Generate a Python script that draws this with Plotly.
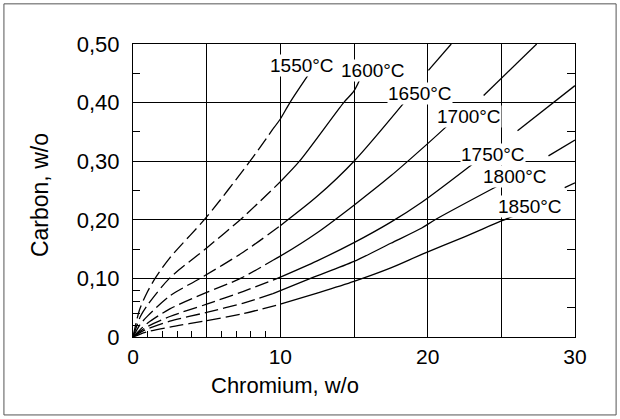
import plotly.graph_objects as go

# ---- data (Chromium w/o vs Carbon w/o) ----
temps = ["1550", "1600", "1650", "1700", "1750", "1800", "1850"]

cr_1550 = [0, 0.45, 1.0, 1.5, 2.5, 5.0, 7.94, 9.5, 10.0, 10.65, 12.0]
c_1550 = [0, 0.047, 0.078, 0.100, 0.135, 0.205, 0.300, 0.355, 0.372, 0.400, 0.451]

cr_1600 = [0, 0.5, 1.0, 2.47, 5.0, 7.5, 10.0, 11.3, 14.3, 15.0, 15.6]
c_1600 = [0, 0.035, 0.055, 0.100, 0.152, 0.205, 0.265, 0.300, 0.400, 0.420, 0.451]

cr_1650 = [0, 0.5, 1.0, 2.5, 4.55, 7.5, 10.0, 12.5, 15.0, 18.4]
c_1650 = [0, 0.022, 0.036, 0.070, 0.100, 0.145, 0.190, 0.240, 0.300, 0.400]

cr_1700 = [0, 0.5, 1.0, 2.5, 5.0, 7.3, 9.5, 10.0, 12.5, 15.0, 17.5, 20.0, 21.4]
c_1700 = [0, 0.013, 0.024, 0.048, 0.076, 0.100, 0.131, 0.138, 0.178, 0.225, 0.275, 0.330, 0.362]

cr_1750 = [0, 0.5, 1.0, 2.5, 5.0, 7.5, 9.8, 12.5, 15.0, 17.5, 19.6, 23.3]
c_1750 = [0, 0.010, 0.018, 0.035, 0.056, 0.078, 0.100, 0.130, 0.161, 0.196, 0.230, 0.300]

cr_1800 = [0, 0.5, 1.0, 2.5, 5.0, 7.5, 9.5, 12.05, 15.0, 17.5, 19.6, 20.5, 25.0]
c_1800 = [0, 0.008, 0.014, 0.027, 0.042, 0.058, 0.074, 0.100, 0.129, 0.160, 0.186, 0.200, 0.261]

cr_1850 = [0, 0.5, 1.0, 2.5, 5.0, 7.5, 10.0, 12.5, 15.0, 17.5, 19.6, 22.5, 25.0, 26.3]
c_1850 = [0, 0.005, 0.009, 0.017, 0.028, 0.040, 0.056, 0.075, 0.095, 0.118, 0.141, 0.171, 0.198, 0.211]

# x where each curve changes from dashed to solid
split_x = [9.5, 10.0, 10.0, 9.5, 9.8, 9.5, 10.0]

# label positions (data coords)
label_x = [11.5, 16.3, 19.5, 22.8, 24.45, 25.95, 26.95]
label_y = [0.463, 0.454, 0.415, 0.376, 0.311, 0.274, 0.222]

# unlabeled short line segments at upper right
stub_x = [[20.05, 21.6], [23.8, 27.4], [26.1, 30.0], [28.2, 30.0], [29.3, 30.0]]
stub_y = [[0.455, 0.500], [0.412, 0.500], [0.352, 0.429], [0.309, 0.336], [0.255, 0.263]]

x_ticks = [0, 5, 10, 15, 20, 25, 30]
x_ticktext = ["0", "", "10", "", "20", "", "30"]
y_ticks = [0, 0.1, 0.2, 0.3, 0.4, 0.5]
y_ticktext = ["0", "0,10", "0,20", "0,30", "0,40", "0,50"]

curves_x = [cr_1550, cr_1600, cr_1650, cr_1700, cr_1750, cr_1800, cr_1850]
curves_y = [c_1550, c_1600, c_1650, c_1700, c_1750, c_1800, c_1850]

FONT = "Liberation Sans, Arial, sans-serif"

fig = go.Figure()
for xs, ys, sx in zip(curves_x, curves_y, split_x):
    dx = [a for a in xs if a <= sx]
    dy = [b for a, b in zip(xs, ys) if a <= sx]
    lx = [a for a in xs if a >= sx]
    ly = [b for a, b in zip(xs, ys) if a >= sx]
    fig.add_trace(go.Scatter(x=dx, y=dy, mode="lines",
                             line=dict(color="black", width=1.3, dash="14px,5px",
                                       shape="spline", smoothing=0.8),
                             showlegend=False, hoverinfo="skip"))
    fig.add_trace(go.Scatter(x=lx, y=ly, mode="lines",
                             line=dict(color="black", width=1.3,
                                       shape="spline", smoothing=0.8),
                             showlegend=False, hoverinfo="skip"))

for xs, ys in zip(stub_x, stub_y):
    fig.add_trace(go.Scatter(x=xs, y=ys, mode="lines",
                             line=dict(color="black", width=1.3),
                             showlegend=False, hoverinfo="skip"))

# invisible trace on the right-hand overlay axis (for its inner ticks)
fig.add_trace(go.Scatter(x=[0], y=[0], yaxis="y2", mode="markers",
                         marker=dict(opacity=0), showlegend=False, hoverinfo="skip"))

for t, lx, ly in zip(temps, label_x, label_y):
    fig.add_annotation(x=lx, y=ly, text=f"{t}°C", showarrow=False,
                       font=dict(family=FONT, size=19, color="black"),
                       bgcolor="white", borderpad=0)

fig.add_annotation(xref="paper", yref="paper", x=0.344, y=-0.166,
                   xanchor="center", yanchor="middle",
                   text="Chromium, w/o", showarrow=False,
                   font=dict(family=FONT, size=22, color="black"))
fig.add_annotation(xref="paper", yref="paper", x=-0.21, y=0.485,
                   xanchor="center", yanchor="middle",
                   text="Carbon, w/o", showarrow=False, textangle=-90,
                   font=dict(family=FONT, size=23, color="black"))

# outer frame around the whole picture
fig.add_shape(type="rect", xref="paper", yref="paper",
              x0=-0.292, x1=1.093, y0=-0.266, y1=1.137,
              line=dict(color="#555555", width=1))

fig.update_layout(
    width=620, height=419,
    margin=dict(l=133, r=45, t=44, b=82),
    paper_bgcolor="white", plot_bgcolor="white",
    font=dict(family=FONT, size=22, color="black"),
    xaxis=dict(range=[0, 30], tickvals=x_ticks, ticktext=x_ticktext,
               tickfont=dict(size=21),
               showgrid=True, gridcolor="black", gridwidth=1,
               zeroline=False, showline=True, linecolor="black", linewidth=1.2,
               mirror=True, ticks="", ticklabelstandoff=1,
               minor=dict(tickmode="array", tickvals=[1, 2, 3, 4, 6, 7, 8, 9],
                          ticks="inside", ticklen=6, tickcolor="black",
                          showgrid=False)),
    yaxis=dict(range=[0, 0.5], tickvals=y_ticks, ticktext=y_ticktext,
               showgrid=True, gridcolor="black", gridwidth=1,
               zeroline=False, showline=True, linecolor="black", linewidth=1.2,
               mirror=True, ticks="", ticklabelstandoff=8,
               minor=dict(tickmode="array",
                          tickvals=[0.02, 0.04, 0.06, 0.08, 0.15, 0.25, 0.35, 0.45],
                          ticks="inside", ticklen=7, tickcolor="black",
                          showgrid=False)),
    yaxis2=dict(range=[0, 0.5], overlaying="y", side="right",
                tickvals=[0.05, 0.15, 0.25, 0.35, 0.45], ticks="inside",
                ticklen=8, tickcolor="black", showticklabels=False,
                showgrid=False, zeroline=False, showline=False),
)

fig.write_html("out.html", config={"displayModeBar": False},
               post_script="document.body.style.margin='0';document.body.style.overflow='hidden';")
